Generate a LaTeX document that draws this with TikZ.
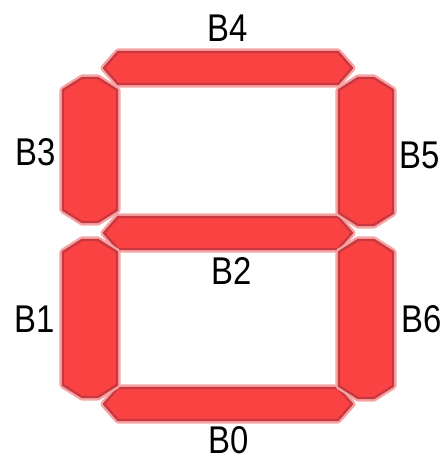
\documentclass[tikz,border=0pt]{standalone}
\usepackage{fontspec}
\setsansfont[FakeStretch=0.85]{Liberation Sans}
\definecolor{SegRed}{rgb}{0.98, 0.26, 0.26}
\definecolor{SegDark}{rgb}{0.78, 0.22, 0.25}
\definecolor{SegHalo}{rgb}{0.96, 0.64, 0.64}
\begin{document}
\begin{tikzpicture}[
    seg/.style={fill=SegRed, draw=SegDark, line width=1.3pt, line join=round,
        preaction={draw=SegHalo, line width=4pt, line join=round}},
    lbl/.style={inner sep=0pt, text=black, font=\sffamily\fontsize{22}{24}\selectfont},
]
\useasboundingbox (0,0) rectangle (8.88,9.2);

% segmentos horizontales
\foreach \cx/\cy in {4.56/7.84, 4.56/4.54, 4.56/1.12}
    \draw[seg] (\cx-2.48,\cy) -- (\cx-2.20,\cy+0.32) -- (\cx+2.20,\cy+0.32)
        -- (\cx+2.48,\cy) -- (\cx+2.20,\cy-0.32) -- (\cx-2.20,\cy-0.32) -- cycle;

% segmentos verticales
\foreach \cx/\cy/\hl in {1.8/6.2/1.44, 1.8/2.83/1.57, 7.32/6.17/1.47, 7.32/2.82/1.58}
    \draw[seg] (\cx-0.54,\cy+\hl-0.24) -- (\cx-0.16,\cy+\hl) -- (\cx+0.16,\cy+\hl)
        -- (\cx+0.54,\cy+\hl-0.24) -- (\cx+0.54,\cy-\hl+0.24) -- (\cx+0.16,\cy-\hl)
        -- (\cx-0.16,\cy-\hl) -- (\cx-0.54,\cy-\hl+0.24) -- cycle;

% etiquetas
\node[lbl] (b4) at (4.56,8.64) {B4};
\node[lbl] (b3) at (0.72,6.16) {B3};
\node[lbl] (b5) at (8.40,6.10) {B5};
\node[lbl] (b2) at (4.64,3.78) {B2};
\node[lbl] (b1) at (0.70,2.82) {B1};
\node[lbl] (b6) at (8.44,2.82) {B6};
\node[lbl] (b0) at (4.58,0.40) {B0};

\end{tikzpicture}
\end{document}
